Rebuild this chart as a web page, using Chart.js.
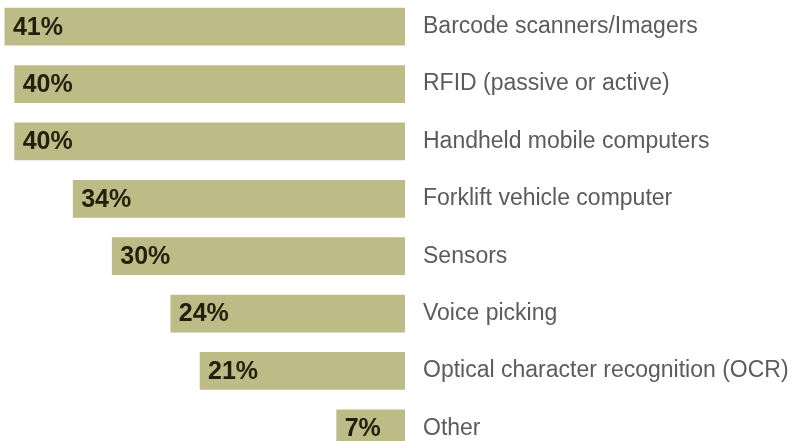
<!DOCTYPE html>
<html>
<head>
<meta charset="utf-8">
<script src="https://cdn.jsdelivr.net/npm/chart.js@4"></script>
<style>
  html, body { margin: 0; padding: 0; background: #fff; overflow: hidden; }
  body { width: 808px; height: 441px; position: relative; }
  /* last row runs past the bottom edge, so the canvas is a bit taller than the page */
  #chart { position: absolute; left: 0; top: -2px; }
</style>
</head>
<body>
<canvas id="chart" width="808" height="459"></canvas>
<script>
// --- data ---
const categories = [
  'Barcode scanners/Imagers',
  'RFID (passive or active)',
  'Handheld mobile computers',
  'Forklift vehicle computer',
  'Sensors',
  'Voice picking',
  'Optical character recognition (OCR)',
  'Other'
];
const shares = [41, 40, 40, 34, 30, 24, 21, 7];

const BAR_COLOR = '#bdbb86';
const VALUE_COLOR = '#221f0c';
const LABEL_COLOR = '#5b5b5b';
const FONT = '"Liberation Sans", Arial, sans-serif';

// percentage text sitting at the left end of each bar
const valueLabels = {
  id: 'valueLabels',
  afterDatasetsDraw(chart) {
    const ctx = chart.ctx;
    const meta = chart.getDatasetMeta(0);
    ctx.save();
    ctx.font = 'bold 25px ' + FONT;
    ctx.fillStyle = VALUE_COLOR;
    ctx.textAlign = 'left';
    ctx.textBaseline = 'middle';
    meta.data.forEach((bar, i) => {
      ctx.fillText(shares[i] + '%', bar.x + 8, bar.y + 1);
    });
    ctx.restore();
  }
};

new Chart(document.getElementById('chart'), {
  type: 'bar',
  data: {
    labels: categories,
    datasets: [{
      data: shares,
      backgroundColor: BAR_COLOR,
      borderWidth: 0,
      barThickness: 37
    }]
  },
  options: {
    indexAxis: 'y',
    responsive: false,
    animation: false,
    layout: { padding: 0 },
    plugins: {
      legend: { display: false },
      tooltip: { enabled: false }
    },
    scales: {
      x: {
        reverse: true,
        min: 0,
        max: 41.5,
        display: false
      },
      y: {
        position: 'right',
        grid: { display: false, drawTicks: false },
        border: { display: false },
        ticks: {
          color: LABEL_COLOR,
          font: { family: FONT, size: 23 },
          padding: 18
        },
        afterFit(scale) {
          // fixed label column, no extra room above/below the rows
          scale.width = 403;
          scale.paddingTop = 0;
          scale.paddingBottom = 0;
        }
      }
    }
  },
  plugins: [valueLabels]
});
</script>
</body>
</html>
